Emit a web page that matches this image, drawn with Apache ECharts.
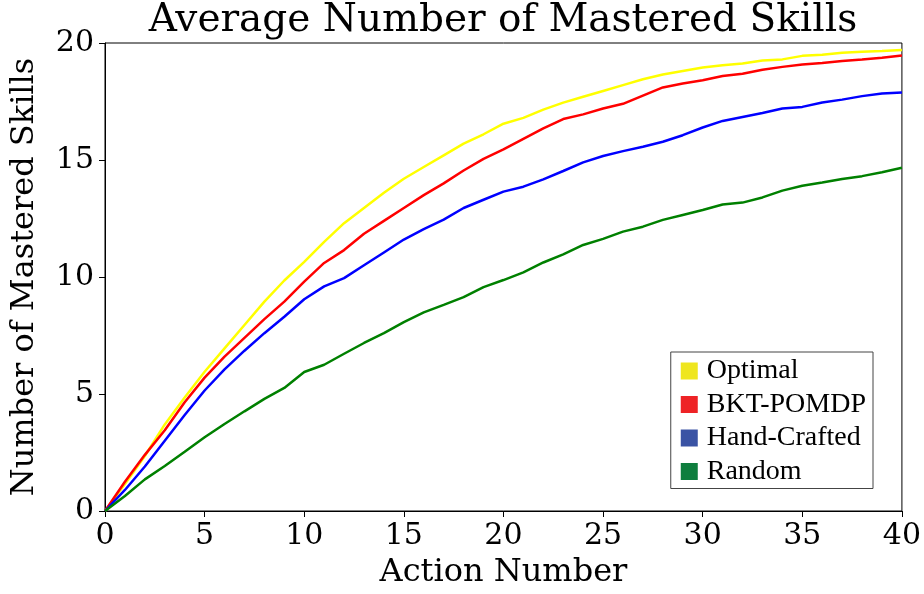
<!DOCTYPE html>
<html>
<head>
<meta charset="utf-8">
<script src="https://cdn.jsdelivr.net/npm/echarts@6/dist/echarts.min.js"></script>
<style>
  html, body { margin: 0; padding: 0; background: #fff; }
  #chart { width: 924px; height: 594px; }
</style>
</head>
<body>
<div id="chart"></div>
<script>
// Action numbers 0..40
const actions = [0,1,2,3,4,5,6,7,8,9,10,11,12,13,14,15,16,17,18,19,20,
  21,22,23,24,25,26,27,28,29,30,31,32,33,34,35,36,37,38,39,40];

// Average number of mastered skills after each action, per policy
const optimal = [0, 1.15, 2.35, 3.7, 4.85, 5.95, 6.95, 7.95, 8.95, 9.85, 10.65,
  11.5, 12.3, 12.95, 13.6, 14.2, 14.7, 15.2, 15.7, 16.1, 16.55,
  16.8, 17.15, 17.45, 17.7, 17.95, 18.2, 18.45, 18.65, 18.8, 18.95,
  19.05, 19.12, 19.25, 19.3, 19.45, 19.5, 19.58, 19.63, 19.66, 19.7];

const bktPomdp = [0, 1.25, 2.4, 3.45, 4.65, 5.7, 6.6, 7.4, 8.2, 8.95, 9.8,
  10.6, 11.15, 11.85, 12.4, 12.95, 13.5, 14.0, 14.55, 15.05, 15.45,
  15.9, 16.35, 16.75, 16.95, 17.2, 17.4, 17.75, 18.1, 18.27, 18.41,
  18.59, 18.69, 18.86, 18.98, 19.08, 19.15, 19.23, 19.29, 19.37, 19.47];

const handCrafted = [0, 0.9, 1.9, 3.0, 4.1, 5.15, 6.05, 6.85, 7.6, 8.3, 9.05,
  9.6, 9.95, 10.5, 11.05, 11.6, 12.05, 12.45, 12.95, 13.3, 13.65,
  13.86, 14.17, 14.53, 14.9, 15.17, 15.38, 15.57, 15.78, 16.06, 16.39,
  16.67, 16.84, 17.01, 17.2, 17.27, 17.46, 17.58, 17.73, 17.84, 17.88];

const random = [0, 0.64, 1.35, 1.92, 2.53, 3.15, 3.72, 4.26, 4.79, 5.26, 5.94,
  6.25, 6.72, 7.18, 7.6, 8.07, 8.49, 8.81, 9.14, 9.57, 9.87,
  10.2, 10.62, 10.97, 11.37, 11.63, 11.94, 12.15, 12.44, 12.65, 12.86,
  13.1, 13.18, 13.4, 13.69, 13.9, 14.04, 14.19, 14.31, 14.48, 14.67];

const seriesNames = ['Optimal', 'BKT-POMDP', 'Hand-Crafted', 'Random'];
const seriesValues = [optimal, bktPomdp, handCrafted, random];
const lineColors = ['#ffff00', '#ff0000', '#0000ff', '#008000'];
const swatchColors = ['#efe61e', '#ee2326', '#3a53a4', '#0e7e3e'];

const serif = '"DejaVu Serif", serif';
const legendFont = '"Liberation Serif", "Times New Roman", serif';

const chart = echarts.init(document.getElementById('chart'), null, { renderer: 'canvas' });

chart.setOption({
  backgroundColor: '#ffffff',
  animation: false,
  title: {
    text: 'Average Number of Mastered Skills',
    left: 503,
    textAlign: 'center',
    top: 1,
    padding: 0,
    textStyle: { fontFamily: serif, fontSize: 39, fontWeight: 'normal', color: '#000' }
  },
  grid: {
    left: 105, right: 22, top: 43, bottom: 83,
    show: true, borderColor: '#000', borderWidth: 1, backgroundColor: 'transparent'
  },
  legend: {
    orient: 'vertical',
    right: 51,
    top: 352,
    padding: [5, 7, 3, 10],
    itemGap: 5.5,
    itemWidth: 17,
    itemHeight: 17,
    borderColor: '#444',
    borderWidth: 1,
    backgroundColor: '#fff',
    textStyle: { fontFamily: legendFont, fontSize: 28, color: '#000', padding: [0, 0, 0, 4] },
    data: seriesNames.map((n, i) => ({
      name: n,
      icon: 'rect',
      itemStyle: { color: swatchColors[i], borderWidth: 0 }
    }))
  },
  xAxis: {
    type: 'value',
    min: 0, max: 40, interval: 5,
    name: 'Action Number',
    nameLocation: 'middle',
    nameGap: 46,
    nameTextStyle: { fontFamily: serif, fontSize: 32, color: '#000' },
    axisLine: { lineStyle: { color: '#000', width: 1 } },
    axisTick: { show: true, inside: false, length: 6, lineStyle: { color: '#000' } },
    axisLabel: { fontFamily: serif, fontSize: 30, color: '#000', margin: 10 },
    splitLine: { show: false }
  },
  yAxis: {
    type: 'value',
    min: 0, max: 20, interval: 5,
    name: 'Number of Mastered Skills',
    nameLocation: 'middle',
    nameGap: 64,
    nameTextStyle: { fontFamily: serif, fontSize: 32, color: '#000' },
    axisLine: { show: true, lineStyle: { color: '#000', width: 1 } },
    axisTick: { show: true, inside: false, length: 6, lineStyle: { color: '#000' } },
    axisLabel: { fontFamily: serif, fontSize: 30, color: '#000', margin: 11 },
    splitLine: { show: false }
  },
  series: seriesNames.map((n, i) => ({
    name: n,
    type: 'line',
    showSymbol: false,
    symbol: 'none',
    smooth: false,
    lineStyle: { color: lineColors[i], width: 2.5 },
    itemStyle: { color: lineColors[i] },
    data: actions.map((a, k) => [a, seriesValues[i][k]])
  }))
});
</script>
</body>
</html>
